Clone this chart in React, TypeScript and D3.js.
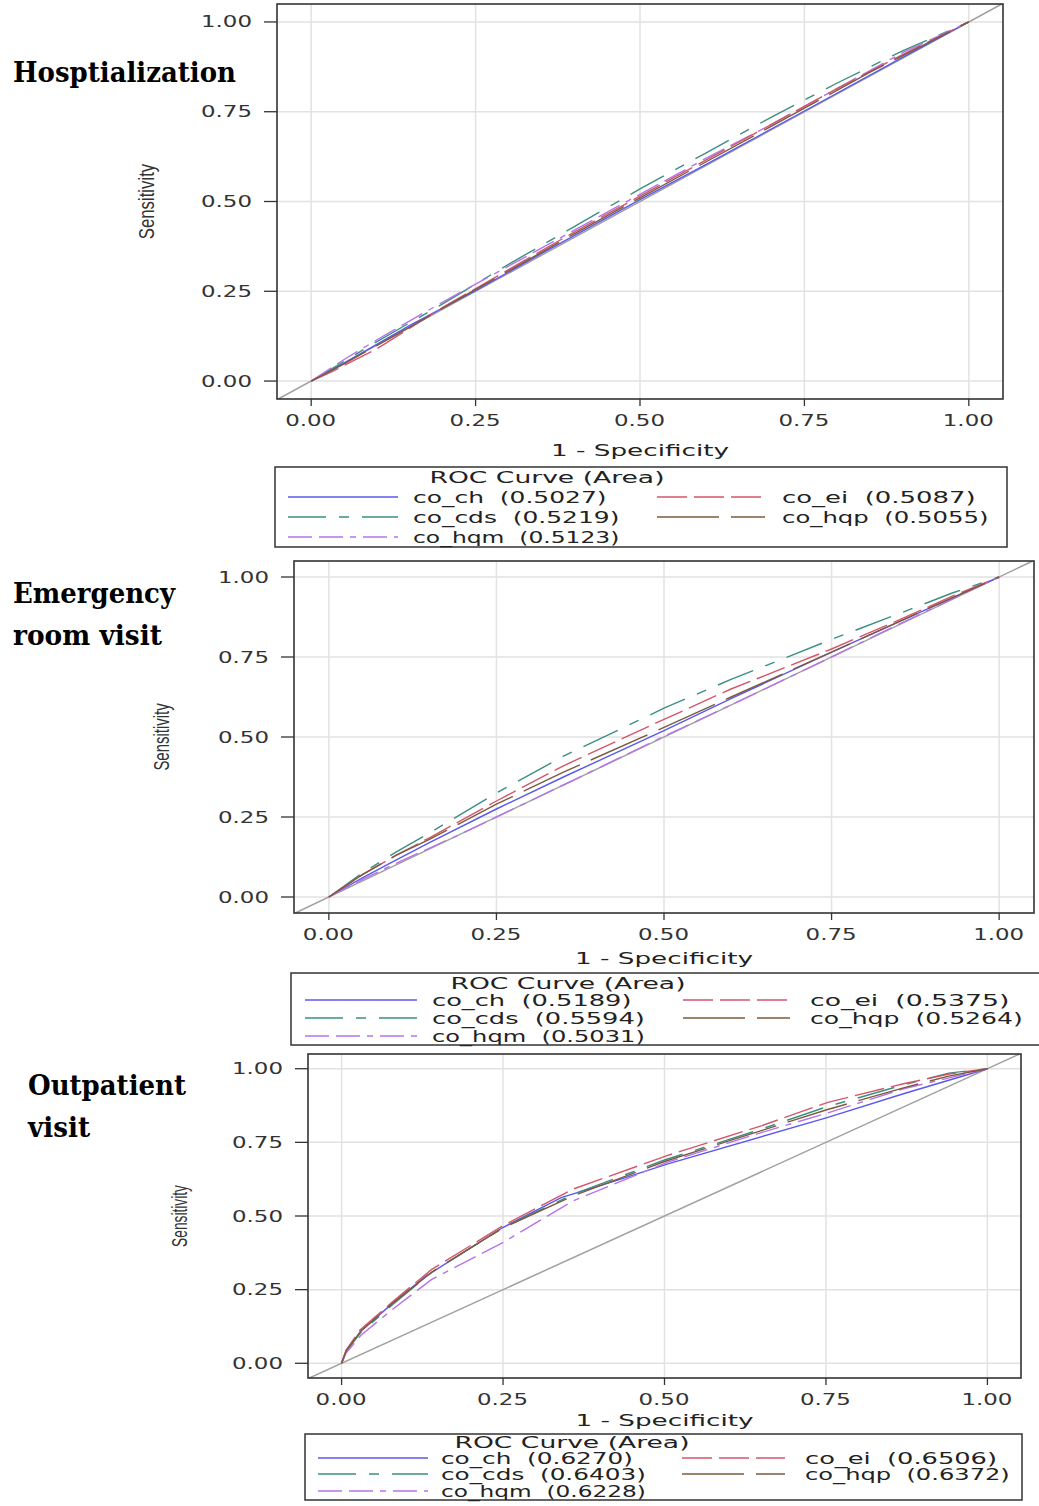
import React from 'react';
import * as d3 from 'd3';

type Pt = [number, number];

// series (legend order: left column first, then right column)
const seriesNames = ['co_ch', 'co_cds', 'co_hqm', 'co_ei', 'co_hqp'];
const seriesColors = ['#5959f0', '#3b8f83', '#b574ea', '#d4566a', '#7d5a3c'];
const seriesDashes = ['none', '38 13 10 13', '24 7 24 7 6 7', '30 7', '62 12'];

const tickValues = [0, 0.25, 0.5, 0.75, 1];
const tickLabels = ['0.00', '0.25', '0.50', '0.75', '1.00'];

// Hospitalization
const hospAUC = [0.5027, 0.5219, 0.5123, 0.5087, 0.5055];
const hospCh: Pt[] = [[0, 0], [0.05, 0.05], [0.15, 0.155], [0.25, 0.252], [0.35, 0.355], [0.5, 0.505], [0.6, 0.603], [0.75, 0.752], [0.9, 0.902], [1, 1]];
const hospCds: Pt[] = [[0, 0], [0.05, 0.055], [0.1, 0.11], [0.2, 0.215], [0.3, 0.325], [0.4, 0.43], [0.5, 0.535], [0.6, 0.635], [0.7, 0.735], [0.75, 0.783], [0.8, 0.83], [0.9, 0.92], [1, 1]];
const hospHqm: Pt[] = [[0, 0], [0.05, 0.06], [0.1, 0.115], [0.2, 0.22], [0.3, 0.32], [0.4, 0.42], [0.5, 0.52], [0.6, 0.62], [0.7, 0.715], [0.8, 0.815], [0.9, 0.915], [1, 1]];
const hospEi: Pt[] = [[0, 0], [0.03, 0.025], [0.1, 0.09], [0.2, 0.205], [0.3, 0.31], [0.4, 0.415], [0.5, 0.515], [0.6, 0.615], [0.7, 0.715], [0.8, 0.815], [0.9, 0.91], [1, 1]];
const hospHqp: Pt[] = [[0, 0], [0.05, 0.048], [0.15, 0.15], [0.25, 0.255], [0.4, 0.41], [0.5, 0.51], [0.6, 0.61], [0.75, 0.76], [0.85, 0.86], [1, 1]];

// Emergency room visit
const erAUC = [0.5189, 0.5594, 0.5031, 0.5375, 0.5264];
const erCh: Pt[] = [[0, 0], [0.05, 0.06], [0.1, 0.115], [0.15, 0.17], [0.25, 0.275], [0.35, 0.375], [0.5, 0.52], [0.6, 0.62], [0.75, 0.765], [0.85, 0.86], [0.93, 0.935], [1, 1]];
const erCds: Pt[] = [[0, 0], [0.05, 0.075], [0.1, 0.14], [0.15, 0.2], [0.25, 0.325], [0.35, 0.44], [0.5, 0.59], [0.6, 0.68], [0.75, 0.805], [0.85, 0.885], [0.93, 0.95], [1, 1]];
const erHqm: Pt[] = [[0, 0], [0.05, 0.055], [0.1, 0.105], [0.2, 0.2], [0.25, 0.25], [0.35, 0.35], [0.5, 0.502], [0.6, 0.6], [0.75, 0.75], [0.85, 0.852], [1, 1]];
const erEi: Pt[] = [[0, 0], [0.05, 0.07], [0.1, 0.13], [0.15, 0.185], [0.25, 0.3], [0.35, 0.41], [0.5, 0.555], [0.6, 0.65], [0.75, 0.775], [0.85, 0.865], [0.93, 0.94], [1, 1]];
const erHqp: Pt[] = [[0, 0], [0.05, 0.07], [0.1, 0.13], [0.15, 0.18], [0.25, 0.29], [0.35, 0.39], [0.5, 0.53], [0.6, 0.625], [0.75, 0.765], [0.85, 0.86], [0.93, 0.935], [1, 1]];

// Outpatient visit
const opAUC = [0.627, 0.6403, 0.6228, 0.6506, 0.6372];
const opCh: Pt[] = [[0, 0], [0.007, 0.04], [0.03, 0.11], [0.077, 0.2], [0.13, 0.295], [0.249, 0.46], [0.34, 0.5625], [0.424, 0.619], [0.504, 0.676], [0.753, 0.835], [0.87, 0.915], [1, 1]];
const opCds: Pt[] = [[0, 0], [0.007, 0.04], [0.03, 0.105], [0.077, 0.195], [0.14, 0.31], [0.25, 0.46], [0.36, 0.575], [0.5, 0.69], [0.65, 0.795], [0.75, 0.87], [0.87, 0.945], [0.94, 0.985], [1, 1]];
const opHqm: Pt[] = [[0, 0], [0.007, 0.035], [0.03, 0.095], [0.077, 0.18], [0.139, 0.284], [0.249, 0.409], [0.358, 0.551], [0.504, 0.682], [0.651, 0.784], [0.753, 0.85], [0.87, 0.932], [1, 1]];
const opEi: Pt[] = [[0, 0], [0.007, 0.045], [0.029, 0.114], [0.077, 0.205], [0.139, 0.318], [0.249, 0.466], [0.358, 0.591], [0.504, 0.705], [0.651, 0.807], [0.753, 0.886], [0.87, 0.949], [0.943, 0.983], [1, 1]];
const opHqp: Pt[] = [[0, 0], [0.007, 0.042], [0.03, 0.11], [0.077, 0.2], [0.14, 0.31], [0.25, 0.46], [0.36, 0.57], [0.5, 0.685], [0.65, 0.79], [0.75, 0.86], [0.87, 0.935], [0.94, 0.975], [1, 1]];

const wideFont = '"DejaVu Sans", Verdana, sans-serif';

type PanelProps = {
  id: string;
  curves: Pt[][];
  auc: number[];
  frame: { l: number; r: number; t: number; b: number };
  titles: { text: string; x: number; y: number; w: number }[];
  sensX: number;
  xlabelY: number;
  legend: {
    l: number; r: number; t: number; b: number; titleY: number; rowY: number[];
    lx: [number, number]; tx: number; rx: [number, number]; rtx: number; labelW: number;
  };
};

const Panel = ({ id, curves, auc, frame, titles, sensX, xlabelY, legend }: PanelProps) => {
  const x = d3.scaleLinear().domain([-0.052, 1.052]).range([frame.l, frame.r]);
  const y = d3.scaleLinear().domain([-0.05, 1.05]).range([frame.b, frame.t]);
  const line = d3.line<Pt>().x(d => x(d[0])).y(d => y(d[1]));
  const unitY = Math.abs(y(1) - y(0));

  return (
    <g>
      <defs>
        <clipPath id={`clip-${id}`}>
          <rect x={frame.l} y={frame.t} width={frame.r - frame.l} height={frame.b - frame.t} />
        </clipPath>
      </defs>

      {titles.map(t => (
        <text key={t.text} x={t.x} y={t.y} fontFamily='"DejaVu Serif", "Liberation Serif", serif'
          fontWeight="bold" fontSize={27} textLength={t.w} lengthAdjust="spacingAndGlyphs">{t.text}</text>
      ))}

      {/* grid */}
      {tickValues.map(v => (
        <g key={v}>
          <line x1={x(v)} x2={x(v)} y1={frame.t} y2={frame.b} stroke="#e2e2e2" strokeWidth={1.5} />
          <line x1={frame.l} x2={frame.r} y1={y(v)} y2={y(v)} stroke="#e2e2e2" strokeWidth={1.5} />
        </g>
      ))}

      <g clipPath={`url(#clip-${id})`}>
        <line x1={x(-0.1)} y1={y(-0.1)} x2={x(1.1)} y2={y(1.1)} stroke="#a0a0a0" strokeWidth={1.5} />
        {curves.map((c, i) => (
          <path key={i} d={line(c) || ''} fill="none" stroke={seriesColors[i]} strokeWidth={1.4}
            strokeDasharray={seriesDashes[i]} />
        ))}
      </g>

      <rect x={frame.l} y={frame.t} width={frame.r - frame.l} height={frame.b - frame.t}
        fill="none" stroke="#333" strokeWidth={1.6} />

      {/* y axis */}
      {tickValues.map((v, i) => (
        <g key={`y${v}`}>
          <line x1={frame.l - 13} x2={frame.l} y1={y(v)} y2={y(v)} stroke="#333" strokeWidth={1.3} />
          <text x={frame.l - 25} y={y(v) + 5.5} textAnchor="end" fontFamily={wideFont} fontSize={15}
            fill="#333" textLength={51} lengthAdjust="spacingAndGlyphs">{tickLabels[i]}</text>
        </g>
      ))}
      {/* x axis */}
      {tickValues.map((v, i) => (
        <g key={`x${v}`}>
          <line x1={x(v)} x2={x(v)} y1={frame.b} y2={frame.b + 7} stroke="#333" strokeWidth={1.3} />
          <text x={x(v) - 26} y={frame.b + 27} fontFamily={wideFont} fontSize={15}
            fill="#333" textLength={51} lengthAdjust="spacingAndGlyphs">{tickLabels[i]}</text>
        </g>
      ))}
      <text x={x(0.5) - 89} y={xlabelY} fontFamily={wideFont} fontSize={15} fill="#222"
        textLength={178} lengthAdjust="spacingAndGlyphs" style={{ whiteSpace: 'pre' }}>1 - Specificity</text>
      <text transform={`translate(${sensX},${y(0.5)}) rotate(-90)`} textAnchor="middle"
        fontFamily='"Liberation Sans", Arial, sans-serif' fontSize={22} fill="#333"
        textLength={unitY * 0.21} lengthAdjust="spacingAndGlyphs" dy={7}>Sensitivity</text>

      {/* legend */}
      <rect x={legend.l} y={legend.t} width={legend.r - legend.l} height={legend.b - legend.t}
        fill="none" stroke="#333" strokeWidth={1.5} />
      <text x={(legend.lx[0] + legend.rx[1] + 40) / 2 - 117} y={legend.titleY} fontFamily={wideFont}
        fontSize={16} fill="#222" textLength={235} lengthAdjust="spacingAndGlyphs">ROC Curve (Area)</text>
      {seriesNames.map((name, i) => {
        const left = i < 3;
        const rowY = legend.rowY[left ? i : i - 3];
        const [x1, x2] = left ? legend.lx : legend.rx;
        const tx = left ? legend.tx : legend.rtx;
        const label = `${name}  (${auc[i].toFixed(4)})`;
        return (
          <g key={name}>
            <line x1={x1} x2={x2} y1={rowY} y2={rowY} stroke={seriesColors[i]} strokeWidth={1.5}
              strokeDasharray={seriesDashes[i]} />
            <text x={tx} y={rowY + 5.5} fontFamily={wideFont} fontSize={15} fill="#222"
              textLength={label.length * legend.labelW} lengthAdjust="spacingAndGlyphs"
              style={{ whiteSpace: 'pre' }}>{label}</text>
          </g>
        );
      })}
    </g>
  );
};

export default function App() {
  return (
    <svg width={1039} height={1506} viewBox="0 0 1039 1506"
      style={{ position: 'absolute', left: 0, top: 0, display: 'block', background: '#fff' }}>
      <rect width={1039} height={1506} fill="#fff" />
      <Panel id="hosp" curves={[hospCh, hospCds, hospHqm, hospEi, hospHqp]} auc={hospAUC}
        frame={{ l: 277, r: 1003, t: 4, b: 399 }}
        titles={[{ text: 'Hosptialization', x: 13, y: 82, w: 223 }]}
        sensX={147} xlabelY={456}
        legend={{ l: 275, r: 1007, t: 467, b: 547, titleY: 483, rowY: [497, 517, 537],
          lx: [288, 398], tx: 413, rx: [657, 765], rtx: 782, labelW: 12.9 }} />
      <Panel id="er" curves={[erCh, erCds, erHqm, erEi, erHqp]} auc={erAUC}
        frame={{ l: 294, r: 1034, t: 561, b: 913 }}
        titles={[{ text: 'Emergency', x: 13, y: 603, w: 162 }, { text: 'room visit', x: 13, y: 645, w: 149 }]}
        sensX={162} xlabelY={964}
        legend={{ l: 291, r: 1045, t: 973, b: 1045, titleY: 989, rowY: [1000, 1018, 1036],
          lx: [305, 417], tx: 432, rx: [683, 790], rtx: 810, labelW: 13.3 }} />
      <Panel id="op" curves={[opCh, opCds, opHqm, opEi, opHqp]} auc={opAUC}
        frame={{ l: 308, r: 1021, t: 1054, b: 1378 }}
        titles={[{ text: 'Outpatient', x: 28, y: 1095, w: 158 }, { text: 'visit', x: 28, y: 1137, w: 62 }]}
        sensX={180} xlabelY={1426}
        legend={{ l: 305, r: 1022, t: 1434, b: 1500, titleY: 1448, rowY: [1458, 1474, 1491],
          lx: [318, 428], tx: 441, rx: [682, 785], rtx: 805, labelW: 12.8 }} />
    </svg>
  );
}
